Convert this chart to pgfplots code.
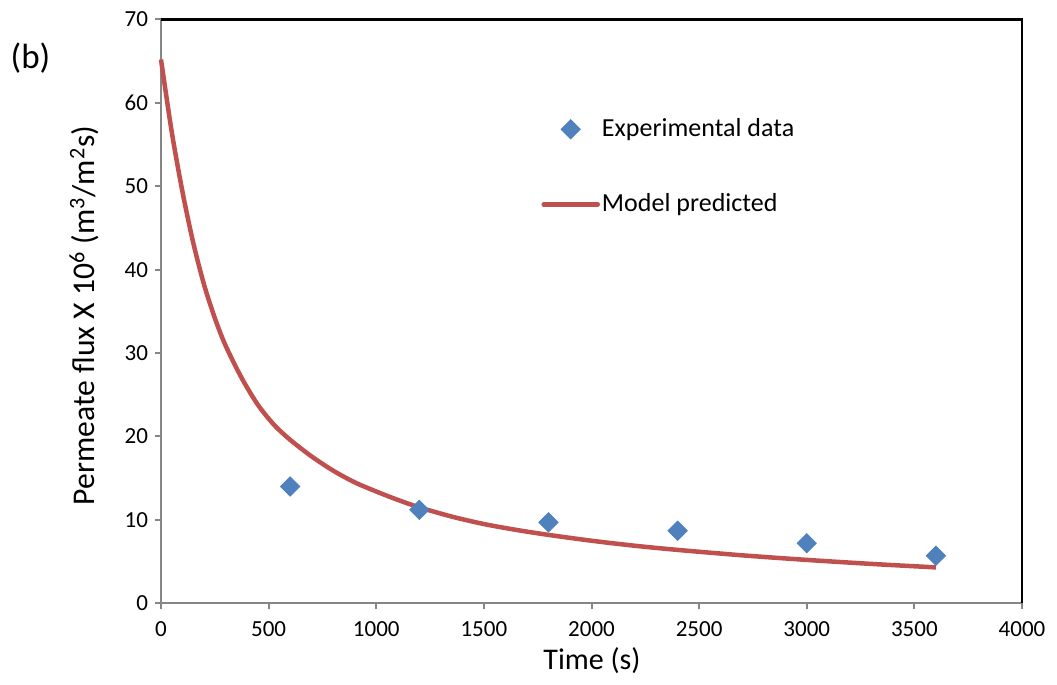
\documentclass[border=0pt]{standalone}
\usepackage{pgfplots}
\pgfplotsset{compat=1.18}
\usepackage{fontspec}
\setmainfont{Carlito}
\definecolor{expblue}{HTML}{4F81BD}
\definecolor{modred}{HTML}{C0504D}
\definecolor{axgray}{HTML}{868686}
\begin{document}
\begin{tikzpicture}
\begin{axis}[
  width=430.25pt, height=291.75pt, scale only axis,
  xmin=0, xmax=4000, ymin=0, ymax=70,
  xtick={0,500,...,4000}, ytick={0,10,...,70},
  axis x line*=bottom, axis y line*=left,
  tick align=outside,
  major tick length=3pt,
  axis line style={draw=axgray, line width=1.2pt},
  every tick/.style={draw=axgray, line width=1pt},
  ticklabel style={font=\fontsize{11.5}{13}\selectfont, text=black},
  xticklabel style={yshift=-2.75pt},
  /pgf/number format/assume math mode=true,
  /pgf/number format/1000 sep={},
  xlabel={Time (s)},
  ylabel={Permeate flux X 10\textsuperscript{6} (m\textsuperscript{3}/m\textsuperscript{2}s)},
  label style={font=\fontsize{15}{18}\selectfont},
  xlabel style={at={(axis description cs:0.5006,-0.0986)}, anchor=center},
  ylabel style={at={(axis description cs:-0.0890,0.493)}, anchor=center, font=\fontsize{15.8}{18}\selectfont},
  legend style={draw=none, fill=none, at={(rel axis cs:0.4414,0.834)}, anchor=north west,
    font=\fontsize{13}{15}\selectfont, row sep=25pt, inner sep=0pt,
    nodes={inner sep=1pt},
    /tikz/every even column/.append style={column sep=0pt}},
  legend cell align=left,
  clip=false,
]
\addplot[only marks, mark=square*, mark size=3.4pt, mark options={rotate=45, fill=expblue, draw=expblue},
  legend image code/.code={\draw[mark repeat=2, mark phase=2, draw=none] plot coordinates {(0pt,0pt) (13.5pt,0pt) (27pt,0pt)};}]
  coordinates {(600,14.0) (1200,11.2) (1800,9.7) (2400,8.7) (3000,7.2) (3600,5.7)};
\addlegendentry{Experimental data}
\addplot[modred, line width=2.25pt, smooth, tension=0.5, no marks,
  legend image code/.code={\draw[line width=2.25pt, line cap=round] (0pt,0pt) -- (27pt,0pt);}]
  coordinates {
  (0,65.2) (50,56.5) (100,49.3) (150,43.2) (200,38.2) (250,34.2) (300,30.9)
  (375,27.0) (450,23.8) (525,21.4) (600,19.6) (700,17.6) (800,15.9)
  (900,14.5) (1000,13.4) (1100,12.4) (1200,11.5) (1350,10.4)
  (1500,9.5) (1650,8.8) (1800,8.2) (2000,7.5) (2200,6.9) (2400,6.4)
  (2700,5.75) (3000,5.2) (3300,4.72) (3600,4.3)};
\addlegendentry{Model predicted}
\draw[black, line width=1.2pt] (rel axis cs:0,1) -- (rel axis cs:1,1) -- (rel axis cs:1,0);
\node[font=\fontsize{17.5}{20}\selectfont, anchor=center] at (rel axis cs:-0.1516,0.934) {(b)};
\coordinate (bbl) at (rel axis cs:-0.18699,-0.1398);
\coordinate (btr) at (rel axis cs:1.04065,1.0333);
\end{axis}
\path (bbl) rectangle (btr);
\end{tikzpicture}
\end{document}
